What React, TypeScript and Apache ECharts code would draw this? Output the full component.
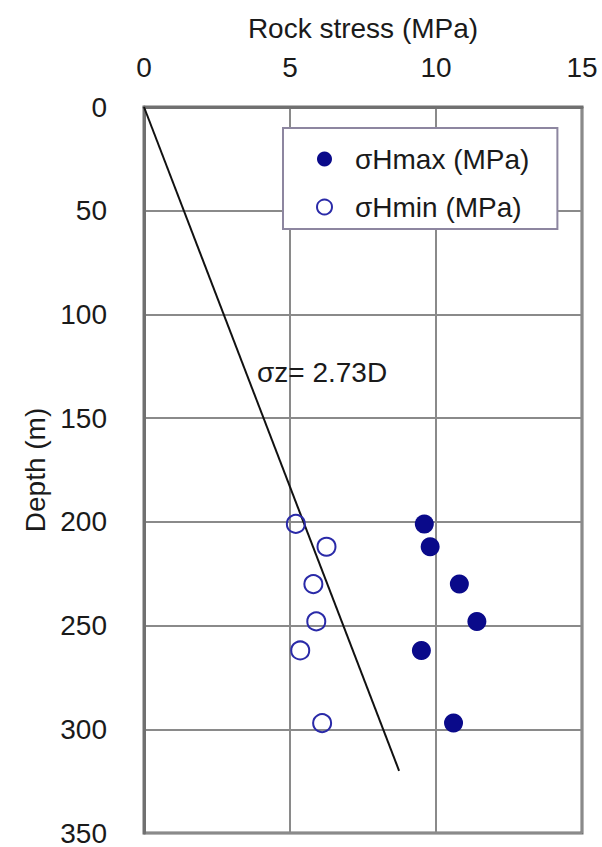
import React, { useEffect, useRef } from "react";
import * as echarts from "echarts";

const depths = [201, 212, 230, 248, 262, 297];
const sigmaHmax = [9.6, 9.8, 10.8, 11.4, 9.5, 10.6];
const sigmaHmin = [5.2, 6.25, 5.8, 5.9, 5.35, 6.1];
const lineDepths = [0, 320];
const lineCoef = 2.73; // MPa per 100 m
const xTicks = [0, 5, 10, 15];
const yTicks = [0, 50, 100, 150, 200, 250, 300, 350];

const FONT = "Liberation Sans, Arial, sans-serif";
const FS = 28;

export default function App() {
  const ref = useRef<HTMLDivElement>(null);
  useEffect(() => {
    document.body.style.margin = "0";
    const chart = echarts.init(ref.current!, null, { renderer: "svg" });
    const maxData = depths.map((d, i) => [sigmaHmax[i], d]);
    const minData = depths.map((d, i) => [sigmaHmin[i], d]);
    const lineData = lineDepths.map((d) => [(lineCoef * d) / 100, d]);
    chart.setOption({
      animation: false,
      backgroundColor: "#ffffff",
      textStyle: { fontFamily: FONT },
      grid: {
        left: 144,
        right: 20,
        top: 107,
        bottom: 14,
        show: true,
        borderColor: "#707070",
        borderWidth: 3,
        backgroundColor: "transparent",
      },
      xAxis: {
        type: "value",
        position: "top",
        min: xTicks[0],
        max: xTicks[xTicks.length - 1],
        interval: 5,
        name: "Rock stress (MPa)",
        nameLocation: "middle",
        nameGap: 65,
        nameTextStyle: { fontSize: FS, color: "#1a1a1a", fontFamily: FONT },
        axisLine: { show: true, lineStyle: { color: "#707070", width: 3 } },
        axisTick: { show: false },
        axisLabel: { fontSize: FS, color: "#1a1a1a", margin: 26, fontFamily: FONT },
        splitLine: { show: true, lineStyle: { color: "#8a8a8a", width: 2 } },
      },
      yAxis: {
        type: "value",
        inverse: true,
        min: yTicks[0],
        max: yTicks[yTicks.length - 1],
        interval: 50,
        name: "Depth (m)",
        nameLocation: "middle",
        nameRotate: 90,
        nameGap: 93,
        nameTextStyle: { fontSize: FS, color: "#1a1a1a", fontFamily: FONT },
        axisLine: { show: true, lineStyle: { color: "#707070", width: 3 } },
        axisTick: { show: false },
        axisLabel: { fontSize: FS, color: "#1a1a1a", margin: 37, fontFamily: FONT },
        splitLine: { show: true, lineStyle: { color: "#8a8a8a", width: 2 } },
      },
      legend: {
        orient: "vertical",
        left: 283,
        top: 128,
        padding: [17, 28, 8, 33],
        itemGap: 20,
        itemWidth: 15,
        itemHeight: 15,
        backgroundColor: "#ffffff",
        borderColor: "#8d86a0",
        borderWidth: 2,
        textStyle: { fontSize: FS, color: "#1a1a1a", fontFamily: FONT, padding: [4, 0, 0, 18] },
        data: [
          { name: "σHmax (MPa)", icon: "circle", itemStyle: { color: "#0a0a8a", borderWidth: 0, opacity: 1 } },
          {
            name: "σHmin (MPa)",
            icon: "circle",
            itemStyle: { color: "#ffffff", borderColor: "#2a2aa8", borderWidth: 2, opacity: 1 },
          },
        ],
      },
      series: [
        {
          name: "σz",
          type: "line",
          data: lineData,
          symbol: "none",
          lineStyle: { color: "#111", width: 2 },
          z: 1,
        },
        {
          name: "σHmax (MPa)",
          type: "scatter",
          data: maxData,
          symbol: "circle",
          symbolSize: 19,
          itemStyle: { color: "#0a0a8a", opacity: 1 },
          z: 3,
        },
        {
          name: "σHmin (MPa)",
          type: "scatter",
          data: minData,
          symbol: "circle",
          symbolSize: 18,
          itemStyle: { color: "rgba(255,255,255,0)", borderColor: "#2a2aa8", borderWidth: 2, opacity: 1 },
          z: 3,
        },
      ],
      graphic: [
        {
          type: "text",
          left: 257,
          top: 358,
          style: { text: "σz= 2.73D", fontSize: FS, fill: "#1a1a1a", fontFamily: FONT },
          z: 10,
        },
      ],
    });
    return () => chart.dispose();
  }, []);
  return <div ref={ref} style={{ width: 602, height: 847 }} />;
}
